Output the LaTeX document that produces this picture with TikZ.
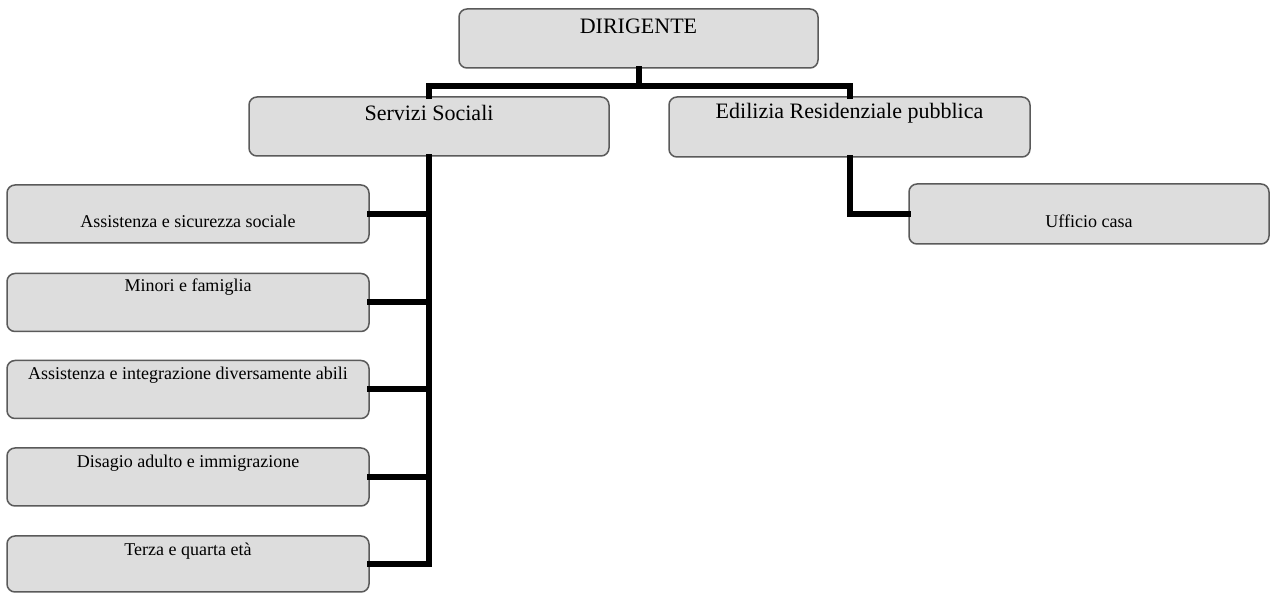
\documentclass[tikz,border=0pt]{standalone}
\usepackage{fontspec}
\setmainfont{Liberation Serif}
\definecolor{boxfill}{RGB}{221,221,221}
\definecolor{boxline}{RGB}{90,90,90}
\begin{document}
\begin{tikzpicture}[x=0.5pt,y=-0.5pt,
  box/.style={draw=boxline, fill=boxfill, line width=0.75pt, rounded corners=4pt, inner sep=0pt},
  bigtxt/.style={font=\fontsize{11}{13}\selectfont, inner sep=0pt},
  smalltxt/.style={font=\fontsize{9}{11}\selectfont, inner sep=0pt},
  conn/.style={line width=3pt, line join=miter, line cap=rect}]
\fill[white] (0,0) rectangle (1271,593);
\useasboundingbox (0,0) rectangle (1271,593);
% boxes
\node[box, minimum width=179.5pt, minimum height=29.5pt] (dir) at (638.5,38.5) {};
\node[box, minimum width=180pt, minimum height=29.5pt] (ss) at (429,126.5) {};
\node[box, minimum width=180.5pt, minimum height=30pt] (erp) at (849.5,127) {};
\node[box, minimum width=181pt, minimum height=29pt] (a1) at (188,214) {};
\node[box, minimum width=181pt, minimum height=29pt] (a2) at (188,302.5) {};
\node[box, minimum width=181pt, minimum height=29pt] (a3) at (188,389.5) {};
\node[box, minimum width=181pt, minimum height=29pt] (a4) at (188,477) {};
\node[box, minimum width=181pt, minimum height=28pt] (a5) at (188,564) {};
\node[box, minimum width=180pt, minimum height=30pt] (uc) at (1089,214) {};
% texts
\node[bigtxt] (dirT) at (638.5,26) {DIRIGENTE};
\node[bigtxt] (ssT) at (429,113) {Servizi Sociali};
\node[bigtxt] (erpT) at (849.5,113) {Edilizia Residenziale pubblica};
\node[smalltxt] (a1T) at (188,221) {Assistenza e sicurezza sociale};
\node[smalltxt] (a2T) at (188,287) {Minori e famiglia};
\node[smalltxt] (a3T) at (188,375) {Assistenza e integrazione diversamente abili};
\node[smalltxt] (a4T) at (188,463) {Disagio adulto e immigrazione};
\node[smalltxt] (a5T) at (188,551) {Terza e quarta età};
\node[smalltxt] (ucT) at (1089,221) {Ufficio casa};
% connectors
\coordinate (j) at (639,86);
\draw[conn] (dir.south) -- (dir.south |- j);
\draw[conn] (ss.north) -- (ss.north |- j) -- (erp.north |- j) -- (erp.north);
\draw[conn] (ss.south) |- (a5.east);
\draw[conn] (a1.east) -- (a1.east -| ss.south);
\draw[conn] (a2.east) -- (a2.east -| ss.south);
\draw[conn] (a3.east) -- (a3.east -| ss.south);
\draw[conn] (a4.east) -- (a4.east -| ss.south);
\draw[conn] (erp.south) |- (uc.west);
\end{tikzpicture}
\end{document}
